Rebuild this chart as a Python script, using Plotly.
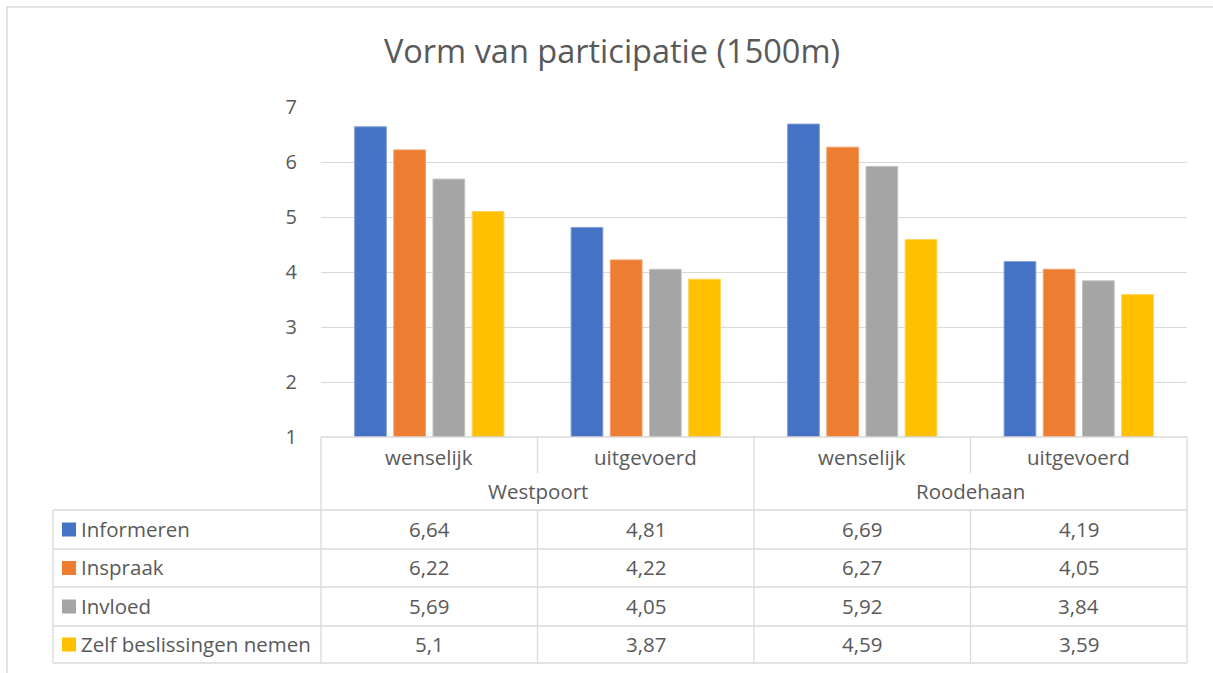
import plotly.graph_objects as go

W, H = 1213, 673

# data
regions = ["Westpoort", "Roodehaan"]
kinds = ["wenselijk", "uitgevoerd"]
series = ["Informeren", "Inspraak", "Invloed", "Zelf beslissingen nemen"]
informeren = [6.64, 4.81, 6.69, 4.19]
inspraak = [6.22, 4.22, 6.27, 4.05]
invloed = [5.69, 4.05, 5.92, 3.84]
zelf = [5.10, 3.87, 4.59, 3.59]
colors = ["#4472C4", "#ED7D31", "#A5A5A5", "#FFC000"]
edges = ["#7F9ED8", "#F2A06E", "#C3C3C3", "#FFD45C"]

values = [informeren, inspraak, invloed, zelf]
cats = [0, 1, 2, 3]
grey = "#595959"
line_col = "#D9D9D9"
font = "Open Sans"


def px(x):
    return x / W


def py(y):
    return 1 - y / H


# plot area in pixels
x0, x1 = 321, 1187
y_top, y_bot = 107, 437
col_w = (x1 - x0) / 4

fig = go.Figure()
for name, vals, c, e in zip(series, values, colors, edges):
    fig.add_trace(go.Bar(x=cats, y=vals, name=name, marker_color=c,
                         marker_line=dict(color=e, width=1)))

shapes = []


def hline(xa, xb, y):
    shapes.append(dict(type="line", xref="paper", yref="paper",
                       x0=px(xa), x1=px(xb), y0=py(y), y1=py(y),
                       line=dict(color=line_col, width=1.3)))


def vline(x, ya, yb):
    shapes.append(dict(type="line", xref="paper", yref="paper",
                       x0=px(x), x1=px(x), y0=py(ya), y1=py(yb),
                       line=dict(color=line_col, width=1.3)))


# outer frame
shapes.append(dict(type="rect", xref="paper", yref="paper",
                   x0=px(7), x1=px(1230), y0=py(690), y1=py(7),
                   line=dict(color=line_col, width=1.5)))

# table grid
rows = [510, 549, 587, 626, 663]
t_left = 53
hline(x0, x1, y_bot)
for y in rows:
    hline(t_left, x1, y)
vline(t_left, rows[0], rows[-1])
vline(x0, y_bot, rows[-1])
vline(x1, y_bot, rows[-1])
vline(x0 + 2 * col_w, y_bot, rows[-1])
for k in (1, 3):
    vline(x0 + k * col_w, y_bot, 473)
    vline(x0 + k * col_w, rows[0], rows[-1])

annotations = []


def text(x, y, s, anchor="center"):
    annotations.append(dict(x=px(x), y=py(y), xref="paper", yref="paper",
                            text=s, showarrow=False, xanchor=anchor,
                            yanchor="middle",
                            font=dict(family=font, size=20.5, color=grey)))


# category labels
for i in range(4):
    text(x0 + (i + 0.5) * col_w, 457, kinds[i % 2])
for j, r in enumerate(regions):
    text(x0 + (2 * j + 1) * col_w, 491, r)

# data table rows
for s_i, (name, vals, c) in enumerate(zip(series, values, colors)):
    yc = (rows[s_i] + rows[s_i + 1]) / 2
    shapes.append(dict(type="rect", xref="paper", yref="paper",
                       x0=px(62), x1=px(76), y0=py(yc + 7), y1=py(yc - 7),
                       fillcolor=c, line=dict(width=0)))
    text(79, yc - 1, name, anchor="left")
    for i, v in enumerate(vals):
        s = ("%.2f" % v).rstrip("0").rstrip(".").replace(".", ",")
        text(x0 + (i + 0.5) * col_w, yc - 1, s)

fig.update_layout(
    width=W, height=H, autosize=False,
    margin=dict(l=0, r=0, t=0, b=0, pad=0),
    paper_bgcolor="white", plot_bgcolor="white",
    showlegend=False,
    barmode="group", bargap=0.276, bargroupgap=0.19,
    title=dict(text="Vorm van participatie (1500m)", x=612 / W, y=py(52),
               xanchor="center", yanchor="middle", automargin=False,
               font=dict(family=font, size=32.5, color=grey)),
    xaxis=dict(domain=[px(x0), px(x1)], range=[-0.5, 3.5], automargin=False,
               showticklabels=False, showgrid=False, zeroline=False),
    yaxis=dict(domain=[py(y_bot), py(y_top)], range=[1, 7], dtick=1,
               automargin=False,
               gridcolor=line_col, gridwidth=1.3, zeroline=False,
               showline=False, ticklabelstandoff=23,
               tickfont=dict(family=font, size=20, color=grey)),
    shapes=shapes, annotations=annotations,
)

fig.write_html("out.html", config={"displayModeBar": False},
               post_script="document.body.style.margin='0';")
